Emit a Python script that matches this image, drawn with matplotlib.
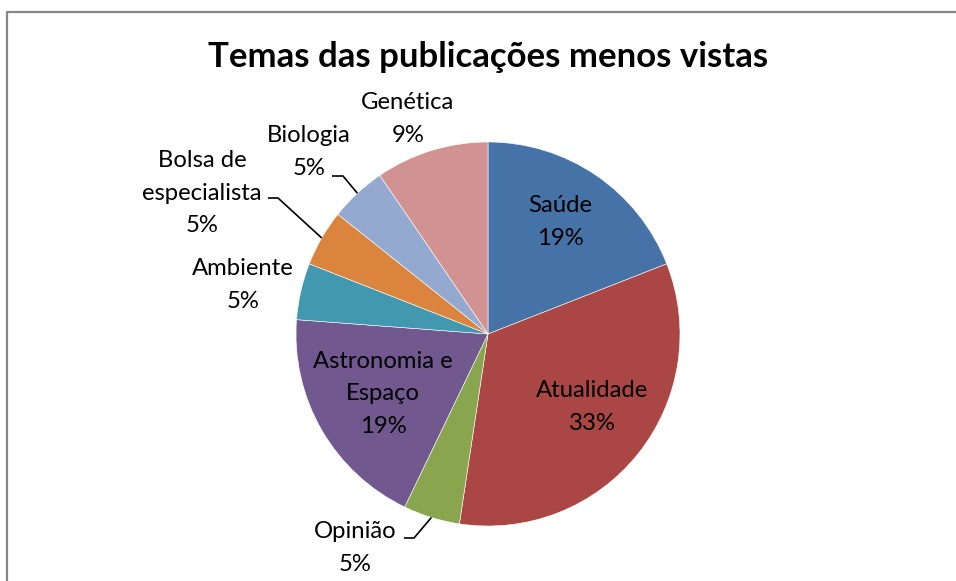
import numpy as np
import matplotlib
matplotlib.use('Agg')
import matplotlib.pyplot as plt

# data (counts give the slice sizes, labels show Excel's %)
temas = ['Saúde', 'Atualidade', 'Opinião', 'Astronomia e\nEspaço', 'Ambiente',
         'Bolsa de\nespecialista', 'Biologia', 'Genética']
contagens = [4, 7, 1, 4, 1, 1, 1, 2]
percentagens = ['19%', '33%', '5%', '19%', '5%', '5%', '5%', '9%']
cores = ['#4572A7', '#AA4643', '#89A54E', '#71588F', '#4198AF', '#DB843D', '#93A9CF', '#D19392']

W, H = 956, 581
plt.rcParams['font.family'] = ['Lato', 'DejaVu Sans']

fig = plt.figure(figsize=(W / 100, H / 100), dpi=100)
ax = fig.add_axes([0, 0, 1, 1])

cx, cy, r = 488, H - 334, 192
wedges, _ = ax.pie(contagens, colors=cores, startangle=90, counterclock=False,
                   center=(cx, cy), radius=r, frame=True,
                   wedgeprops=dict(edgecolor='white', linewidth=0.4))
ax.set_xlim(0, W)
ax.set_ylim(0, H)
ax.set_aspect('equal')
ax.axis('off')

# label layout: centre of the text block (px from top) and optional leader elbow
pos = {
    'Saúde': (560, 222, None),
    'Atualidade': (592, 407, None),
    'Opinião': (355, 548, (404, 414, 538)),
    'Astronomia e\nEspaço': (383, 394, None),
    'Ambiente': (243, 285, None),
    'Bolsa de\nespecialista': (202, 193, (268, 278, 198)),
    'Biologia': (309, 152, (332, 343, 176)),
    'Genética': (408, 119, None),
}

for w, tema, pct in zip(wedges, temas, percentagens):
    x, y, leader = pos[tema]
    ax.text(x, H - y, tema + '\n' + pct, ha='center', va='center',
            fontsize=17.2, linespacing=1.7, color='#000000')
    if leader is not None:
        x0, x1, ly = leader
        ang = np.deg2rad((w.theta1 + w.theta2) / 2)
        ex, ey = cx + r * np.cos(ang), cy + r * np.sin(ang)
        ax.plot([x0, x1, ex], [H - ly, H - ly, ey], color='black', lw=1.2,
                solid_capstyle='butt')

ax.text(488, H - 57, 'Temas das publicações menos vistas', ha='center', va='center',
        fontsize=25, fontweight='bold')

# chart frame (only left and top edges are visible in the crop)
ax.plot([7.5, 7.5, W + 5], [-5, H - 11.5, H - 11.5], color='#868686', lw=1.6)

fig.savefig('out.png', dpi=100)
